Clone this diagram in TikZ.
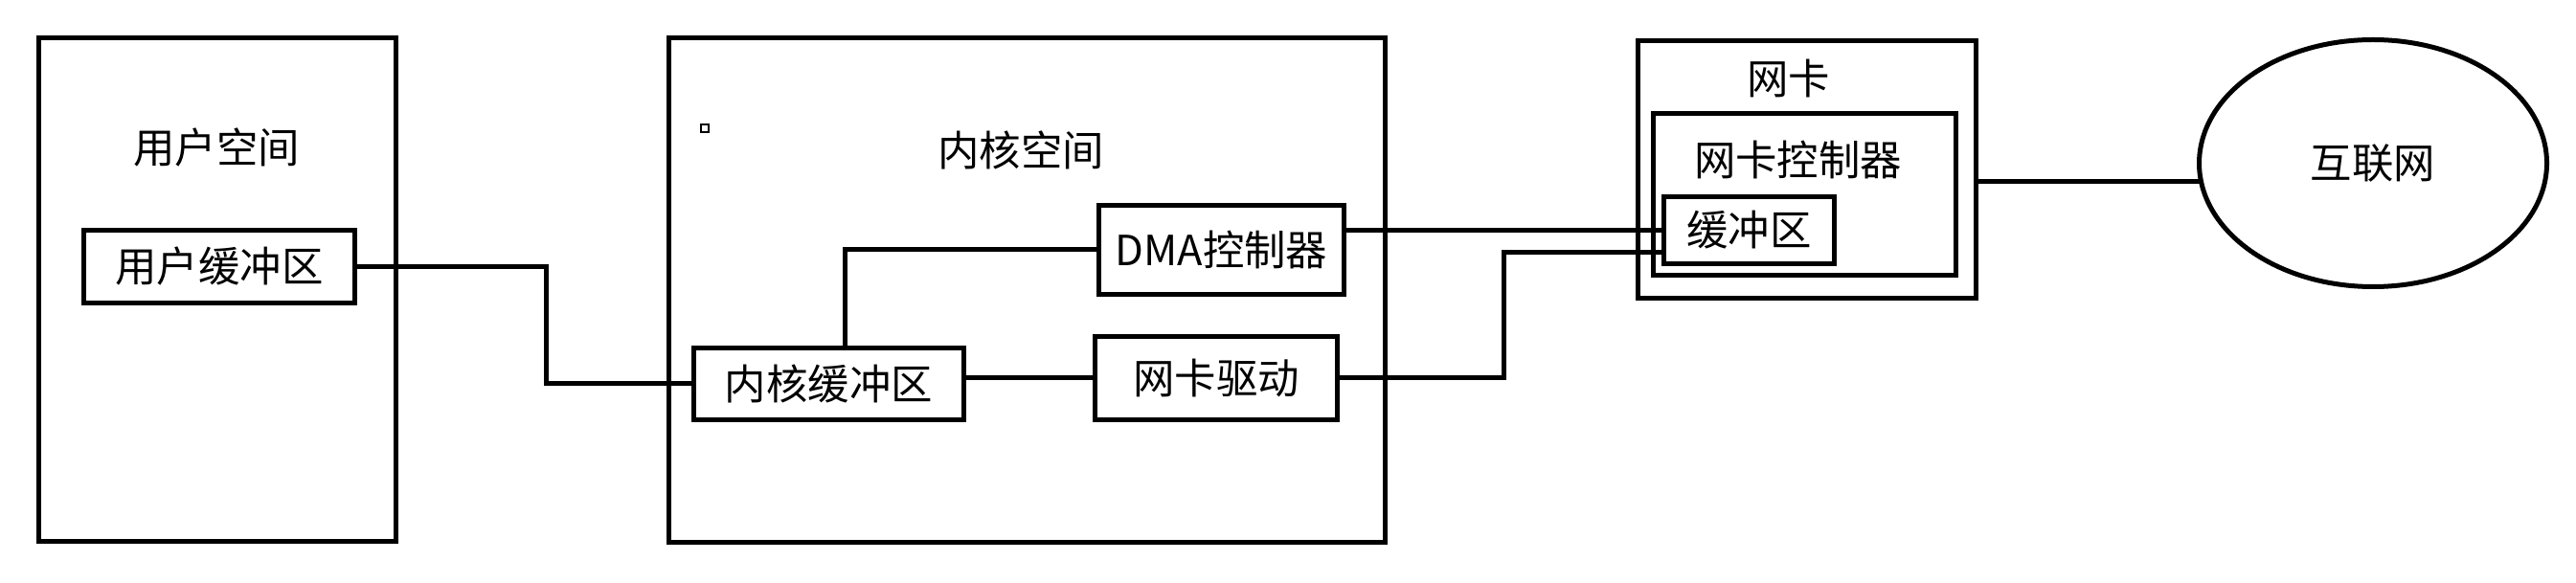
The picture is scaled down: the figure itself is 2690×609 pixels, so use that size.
\documentclass[tikz,border=0pt]{standalone}
\usepackage{fontspec}
\newfontfamily\cjk{Noto Sans CJK SC}
\usetikzlibrary{shapes.geometric}
\begin{document}
\begin{tikzpicture}[x=0.2mm,y=-0.2mm]
	\tikzstyle{space}=[rectangle,draw=black,line width=1mm,inner sep=0pt]
	\tikzstyle{buffer}=[rectangle,draw=black,line width=1mm,inner sep=0pt,font=\cjk\fontsize{24.7}{30}\selectfont]
	\tikzstyle{txt}=[inner sep=0pt,font=\cjk\fontsize{24.7}{30}\selectfont]
	\tikzstyle{edge}=[draw=black,line width=1mm]

	\useasboundingbox (0,0) rectangle (2690,609);

	\begin{scope}
		% user space
		\node [space,minimum width=74.4mm,minimum height=105.2mm] (user) at (227,302.5) {};
		\node [txt] (userlbl) at (226,154.5) {用户空间};
		\node [buffer,minimum width=56.6mm,minimum height=15.2mm] (ubuf) at (229,278.5) {用户缓冲区};

		% kernel space
		\node [space,minimum width=149.6mm,minimum height=105.2mm] (kern) at (1072.5,303) {};
		\node [txt] (kernlbl) at (1066,156.5) {内核空间};
		\node [draw=black,line width=0.3mm,inner sep=0pt,minimum size=1.6mm] (dot) at (736,134) {};
		\node [buffer,minimum width=51.2mm,minimum height=18.6mm] (dma) at (1275.5,261) {DMA控制器};
		\node [buffer,minimum width=56.4mm,minimum height=15mm] (kbuf) at (865.5,401) {内核缓冲区};
		\node [buffer,minimum width=50.6mm,minimum height=17.2mm] (drv) at (1270,395) {网卡驱动};

		% network card
		\node [space,minimum width=70.6mm,minimum height=53.8mm] (nic) at (1887,177) {};
		\node [txt] (niclbl) at (1867.5,82.5) {网卡};
		\node [space,minimum width=63.2mm,minimum height=33.8mm] (nicctl) at (1884.5,203.5) {};
		\node [txt] (ctllbl) at (1877.5,167) {网卡控制器};
		\node [buffer,minimum width=35.6mm,minimum height=14mm] (nbuf) at (1826.5,240.5) {缓冲区};

		% internet
		\node [ellipse,draw=black,line width=1mm,inner sep=0pt,minimum width=72.6mm,minimum height=51.6mm,font=\cjk\fontsize{24.7}{30}\selectfont] (inet) at (2478,170.5) {互联网};

		\coordinate (j1) at (570,340);
		\coordinate (j2) at (882,300);
		\coordinate (j3) at (1570,264);
		\coordinate (j4) at (2297,189.5);

		\draw[edge] (ubuf) -| (j1) |- (kbuf);
		\draw[edge] (kbuf.north -| j2) |- (dma);
		\draw[edge] (kbuf.east |- drv) -- (drv);
		\draw[edge] (dma.east |- nbuf) -- (nbuf);
		\draw[edge] (drv) -| (j3) -- (j3 -| nbuf.west);
		\draw[edge] (nic.east |- j4) -- (j4);
	\end{scope}
\end{tikzpicture}
\end{document}
